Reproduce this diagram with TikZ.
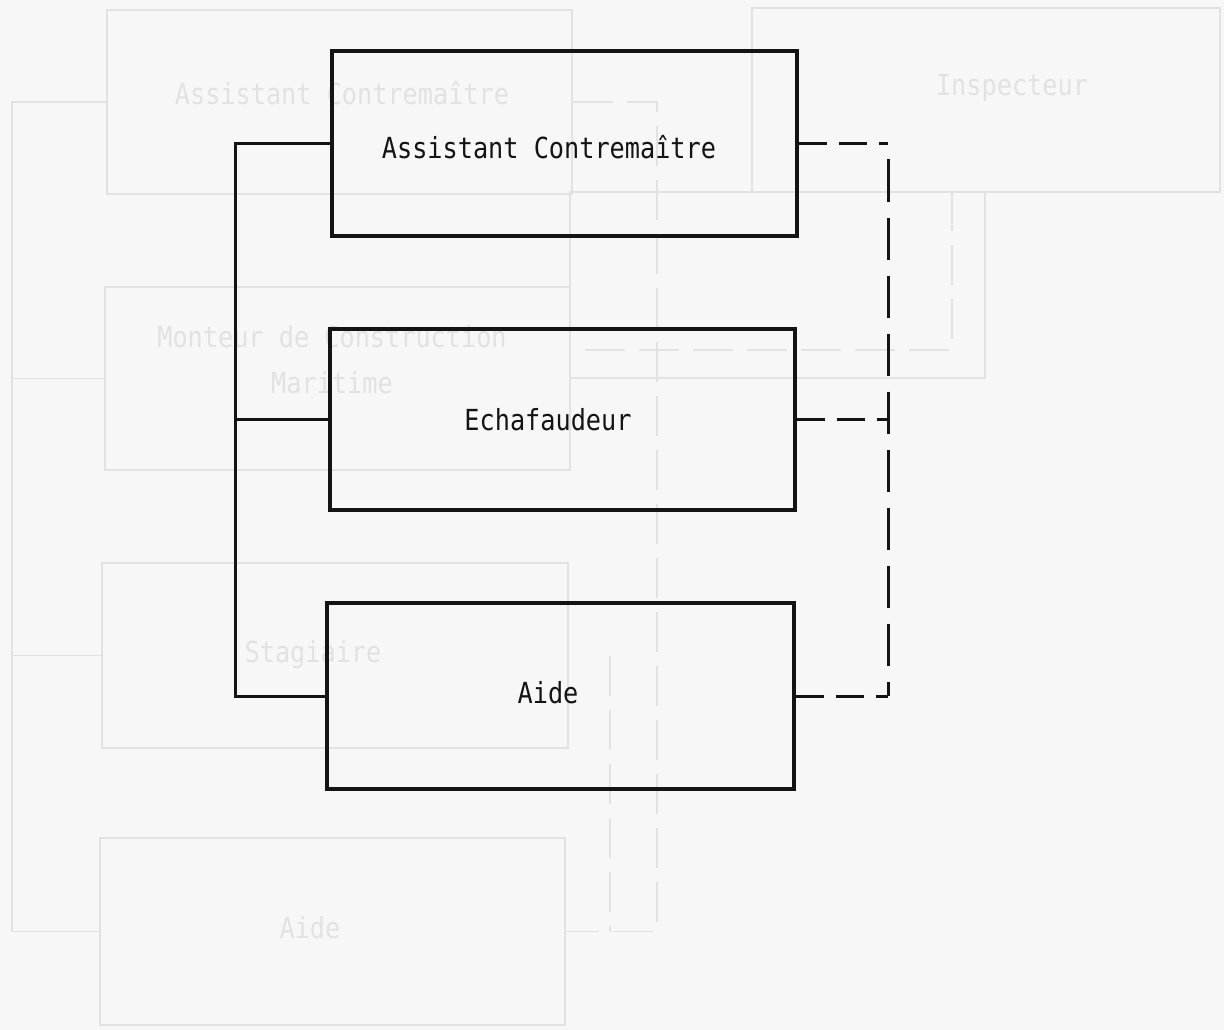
\documentclass[tikz,border=0pt]{standalone}
\usepackage{fontspec}
\newfontfamily\lgfont[FakeStretch=0.87]{DejaVu Sans Mono}
\definecolor{paper}{HTML}{F7F7F7}
\definecolor{ghost}{HTML}{E2E2E2}
\definecolor{ink}{HTML}{141414}
\begin{document}
\begin{tikzpicture}[x=1pt,y=-1pt,
  box/.style={draw=ink,line width=3.2pt,minimum width=#1,minimum height=184pt,inner sep=0pt,rectangle},
  lbl/.style={font=\lgfont\fontsize{29}{34}\selectfont,text=ink,inner sep=0pt},
  solidlink/.style={draw=ink,line width=3pt},
  hdash/.style={draw=ink,line width=3pt,dash pattern=on 28pt off 12pt},
  vdash/.style={draw=ink,line width=3pt,dash pattern=on 42pt off 16pt,dash phase=42pt},
  gbox/.style={draw=ghost,line width=1.6pt,inner sep=0pt,rectangle},
  glbl/.style={font=\lgfont\fontsize{29}{46}\selectfont,text=ghost,inner sep=0pt,align=center},
  gline/.style={draw=ghost,line width=1.6pt},
  gdash/.style={draw=ghost,line width=1.6pt,dash pattern=on 40pt off 14pt}]
\fill[paper] (0,0) rectangle (1224,1030);
\useasboundingbox (0,0) rectangle (1224,1030);
% faint show-through from the page beneath
\node[gbox,minimum width=465pt,minimum height=184pt] (g1) at (339.5,102) {};
\node[glbl] (gt1) at (342,93) {Assistant Contremaître};
\node[gbox,minimum width=468pt,minimum height=184pt] (g2) at (986,100) {};
\node[glbl] (gt2) at (1012,88) {Inspecteur};
\node[gbox,minimum width=465pt,minimum height=183pt] (g3) at (337.5,378.5) {};
\node[glbl] (gt3) at (332,360) {Monteur de Construction\\Maritime};
\node[gbox,minimum width=466pt,minimum height=185pt] (g4) at (335,655.5) {};
\node[glbl] (gt4) at (313,655) {Stagiaire};
\node[gbox,minimum width=465pt,minimum height=187pt] (g5) at (332.5,931.5) {};
\node[glbl] (gt5) at (310,928) {Aide};
\node[gbox,minimum width=415pt,minimum height=186pt] (g6) at (777.5,285) {};
\coordinate (GL) at (12,0);
\draw[gline] (g1.west) -- (g1.west -| GL) -- (g5.west -| GL) -- (g5.west);
\draw[gline] (g3.west -| GL) -- (g3.west);
\draw[gline] (g4.west -| GL) -- (g4.west);
\coordinate (GD1) at (610,0);
\coordinate (GD2) at (657,0);
\draw[gdash] (g1.east) -- (g1.east -| GD2) -- (g5.east -| GD2) -- (g5.east);
\draw[gdash] (g4.east -| GD1) -- (g5.east -| GD1);
\draw[gdash] (g6.north -| 952,0) -- (952,350) -- (570,350);
% main diagram
\node[box=465pt,minimum height=185pt] (b1) at (564.5,143.5) {};
\node[lbl] (t1) at (549,147) {Assistant Contremaître};
\node[box=465pt,minimum height=181pt] (b2) at (562.5,419.5) {};
\node[lbl] (t2) at (548,420) {Echafaudeur};
\node[box=467pt,minimum height=186pt] (b3) at (560.5,696) {};
\node[lbl] (t3) at (548,693) {Aide};
\coordinate (L) at (235,0);
\coordinate (R) at (888,0);
\draw[solidlink] (b1.west) -- (b1.west -| L) -- (b3.west -| L) -- (b3.west);
\draw[solidlink] (b2.west -| L) -- (b2.west);
\draw[hdash] (b1.east) -- (b1.east -| R);
\draw[vdash] (b1.east -| R) -- (b3.east -| R);
\draw[hdash] (b3.east) -- (b3.east -| R);
\draw[hdash] (b2.east) -- (b2.east -| R);
\end{tikzpicture}
\end{document}
